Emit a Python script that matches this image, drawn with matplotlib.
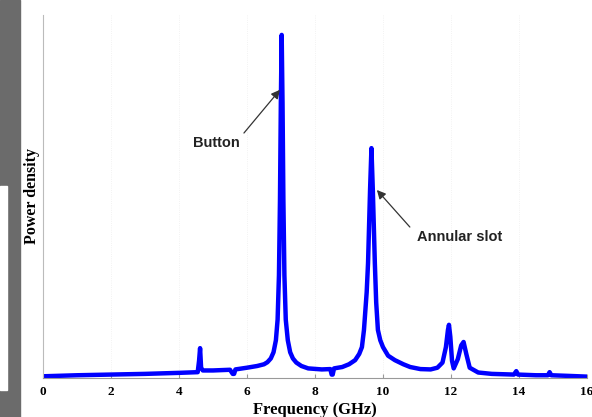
import matplotlib
matplotlib.use("Agg")
import matplotlib.pyplot as plt
from matplotlib.patches import Rectangle

# spectrum (GHz, relative power)
freq = [0.0, 1.0, 2.0, 3.0, 4.0, 4.55, 4.59, 4.62, 4.65, 4.7, 5.0, 5.5, 5.58, 5.62, 5.66,
        6.0, 6.3, 6.5, 6.6, 6.7, 6.78, 6.85, 6.9, 6.94, 6.97, 6.995, 7.02, 7.045, 7.07, 7.1,
        7.14, 7.2, 7.27, 7.35, 7.45, 7.6, 7.8, 8.2, 8.45, 8.49, 8.52, 8.56, 8.8, 9.0, 9.18,
        9.3, 9.38, 9.44, 9.52, 9.56, 9.62, 9.66, 9.70, 9.76, 9.80, 9.85, 9.92, 10.0, 10.15,
        10.35, 10.6, 10.8, 11.1, 11.4, 11.6, 11.75, 11.85, 11.91, 11.94, 11.98, 12.03, 12.08,
        12.2, 12.3, 12.37, 12.45, 12.55, 12.8, 13.2, 13.85, 13.92, 13.97, 14.5, 14.85, 14.9,
        14.95, 15.5, 16.0]
power = [0.005, 0.008, 0.010, 0.012, 0.015, 0.017, 0.05, 0.087, 0.03, 0.022, 0.022, 0.024, 0.012,
         0.012, 0.025, 0.030, 0.035, 0.040, 0.046, 0.057, 0.075, 0.11, 0.17, 0.30, 0.52, 0.80,
         1.0, 0.80, 0.52, 0.30, 0.17, 0.11, 0.075, 0.057, 0.045, 0.035, 0.028, 0.025, 0.026,
         0.010, 0.010, 0.028, 0.032, 0.04, 0.052, 0.07, 0.09, 0.14, 0.25, 0.335, 0.55, 0.67,
         0.55, 0.335, 0.22, 0.14, 0.11, 0.09, 0.065, 0.052, 0.04, 0.032, 0.026, 0.025, 0.03,
         0.045, 0.09, 0.14, 0.155, 0.12, 0.05, 0.028, 0.055, 0.095, 0.105, 0.07, 0.03, 0.016,
         0.012, 0.010, 0.02, 0.010, 0.008, 0.008, 0.017, 0.008, 0.006, 0.004]

xticks = [0, 2, 4, 6, 8, 10, 12, 14, 16]

fig = plt.figure(figsize=(5.92, 4.17), dpi=100)

# strip of the neighbouring page on the left
fig.patches.append(Rectangle((0, 0), 20 / 592, 1, transform=fig.transFigure,
                             color="#6b6b6b", zorder=0))
fig.patches.append(Rectangle((0, 1 - 390 / 417), 7 / 592, 204 / 417,
                             transform=fig.transFigure, color="white", zorder=1))

ax = fig.add_axes([43 / 592, 1 - 378 / 417, 544 / 592, 363 / 417])
ax.plot(freq, power, color="#0000ff", lw=3.2, solid_joinstyle="round")

ax.set_xlim(0, 16)
ax.set_ylim(0, 1.058)
ax.set_xticks(xticks)
ax.set_xticklabels([str(t) for t in xticks], family="Liberation Serif",
                   fontweight="bold", fontsize=9.5)
ax.set_yticks([])
ax.tick_params(axis="x", direction="in", length=3, color="#999999", pad=6)
ax.grid(axis="x", ls=":", color="#eeeeee", lw=0.6)

for s in ["top", "right"]:
    ax.spines[s].set_visible(False)
ax.spines["left"].set_color("#bbbbbb")
ax.spines["bottom"].set_color("#999999")

ax.set_xlabel("Frequency (GHz)", family="Liberation Serif", fontweight="bold",
              fontsize=12, labelpad=2.5)
ax.set_ylabel("Power density", family="Liberation Serif", fontweight="bold",
              fontsize=11.5, labelpad=2)

arrow = dict(arrowstyle="-|>", color="#333333", lw=0.9, mutation_scale=13,
             shrinkA=0, shrinkB=0)
ax.annotate("", xy=(6.97, 0.84), xytext=(5.91, 0.714), arrowprops=arrow)
ax.text(5.1, 0.685, "Button", fontsize=10.5, fontweight="bold", color="#222222",
        ha="center", va="center", family="Liberation Sans")
ax.annotate("", xy=(9.82, 0.548), xytext=(10.79, 0.44), arrowprops=arrow)
ax.text(12.25, 0.41, "Annular slot", fontsize=10.5, fontweight="bold", color="#222222",
        ha="center", va="center", family="Liberation Sans")

fig.savefig("out.png", dpi=100)
